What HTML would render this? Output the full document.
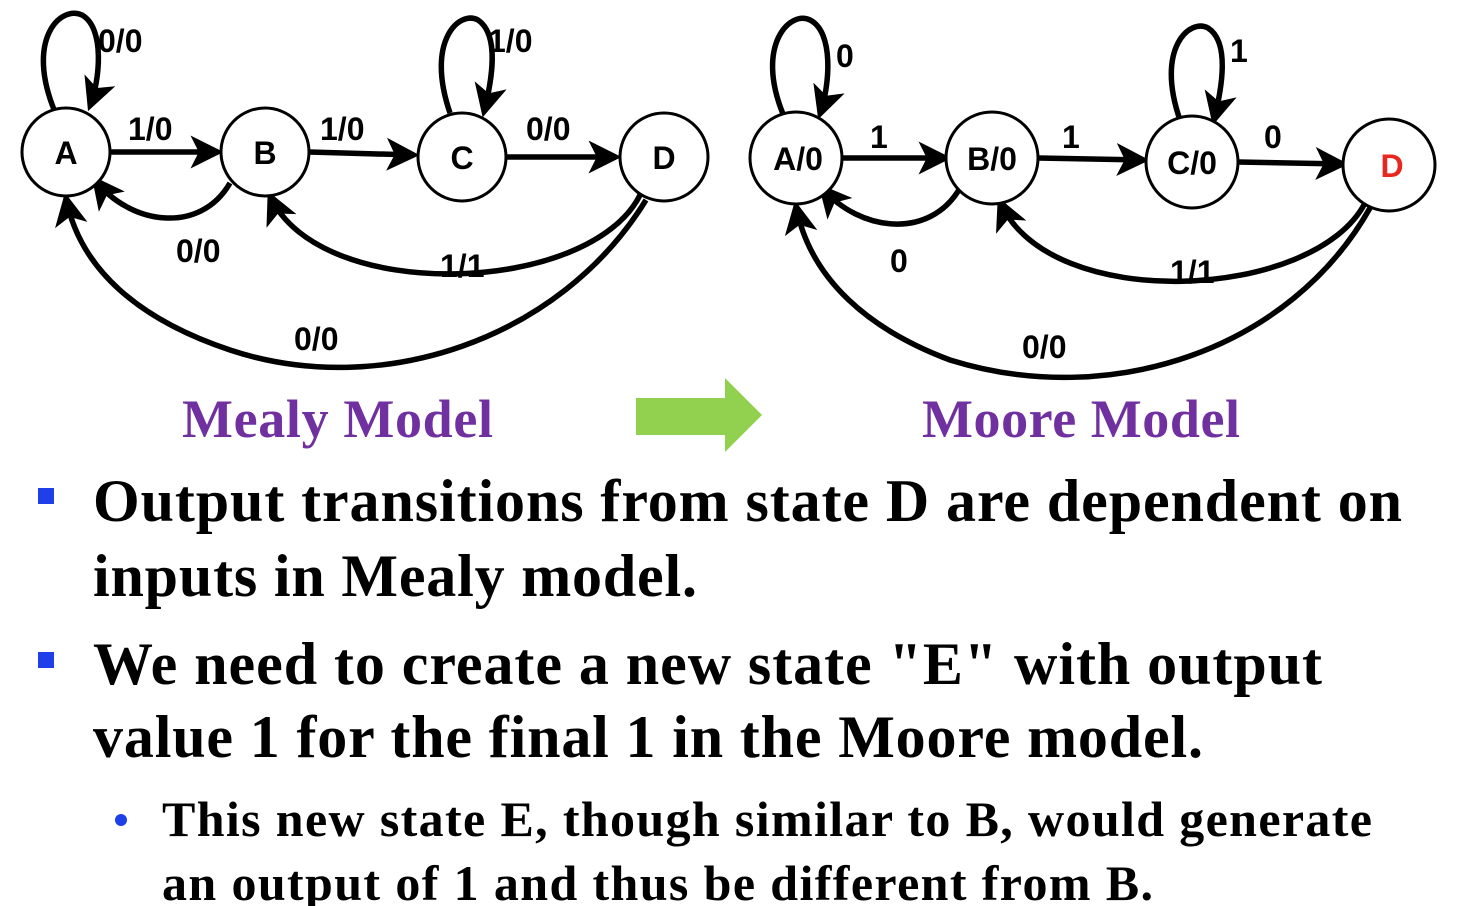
<!DOCTYPE html>
<html><head><meta charset="utf-8"><style>
html,body{margin:0;padding:0;background:#fff;width:1482px;height:906px;overflow:hidden}
svg{display:block}
.st{font-family:"Liberation Sans",sans-serif;font-weight:bold;font-size:32px;fill:#000}
.lb{font-family:"Liberation Sans",sans-serif;font-weight:bold;font-size:32px;fill:#000}
.ttl{font-family:"Liberation Serif",serif;font-weight:bold;font-size:54px;fill:#7030A0}
.bt{font-family:"Liberation Serif",serif;font-weight:bold;font-size:60px;fill:#000}
.sb{font-family:"Liberation Serif",serif;font-weight:bold;font-size:50px;fill:#000}
.e{fill:none;stroke:#000;stroke-width:5.5;marker-end:url(#ah)}
.c{fill:#fff;stroke:#000;stroke-width:3}
</style></head><body>
<svg width="1482" height="906">
<defs><marker id="ah" markerWidth="6" markerHeight="6" refX="5" refY="3" orient="auto" markerUnits="strokeWidth"><path d="M0,0 L6,3 L0,6 L1.5,3 Z" fill="#000"/></marker></defs>
<g>
<path class="e" d="M55 112 C25 40,60 5,82 15 C105 28,100 80,90 106"/>
<path class="e" d="M110 152 L218 152"/>
<path class="e" d="M309 152 L414 155"/>
<path class="e" d="M450 113 C425 40,460 10,478 20 C500 35,492 80,484 112"/>
<path class="e" d="M506 157 L616 157"/>
<path class="e" d="M230 183 C200 235,130 225,95 180"/>
<path class="e" d="M640 195 C590 295,320 305,270 196"/>
<path class="e" d="M646 200 C560 340,380 400,230 350 C140 320,80 270,66 198"/>
<circle class="c" cx="66" cy="152" r="44"/><circle class="c" cx="265" cy="152" r="44"/>
<circle class="c" cx="462" cy="157" r="44"/><circle class="c" cx="664" cy="157" r="44"/>
<text class="st" x="66" y="164" text-anchor="middle">A</text>
<text class="st" x="265" y="164" text-anchor="middle">B</text>
<text class="st" x="462" y="169" text-anchor="middle">C</text>
<text class="st" x="664" y="169" text-anchor="middle">D</text>
<text class="lb" x="98" y="52">0/0</text><text class="lb" x="128" y="140">1/0</text>
<text class="lb" x="320" y="140">1/0</text><text class="lb" x="488" y="52">1/0</text>
<text class="lb" x="526" y="140">0/0</text><text class="lb" x="176" y="262">0/0</text>
<text class="lb" x="440" y="277">1/1</text><text class="lb" x="294" y="350">0/0</text>
</g>
<g>
<path class="e" d="M783 114 C755 45,790 10,810 20 C834 32,830 85,820 114"/>
<path class="e" d="M842 158 L946 158"/>
<path class="e" d="M1038 158 L1144 160"/>
<path class="e" d="M1180 120 C1155 48,1190 18,1208 28 C1230 42,1222 88,1214 120"/>
<path class="e" d="M1238 162 L1343 164"/>
<path class="e" d="M960 188 C930 240,860 232,822 188"/>
<path class="e" d="M1365 203 C1315 300,1050 315,1000 202"/>
<path class="e" d="M1370 208 C1290 350,1110 410,950 360 C870 330,810 280,796 206"/>
<circle class="c" cx="796" cy="158" r="46"/><circle class="c" cx="992" cy="158" r="46"/>
<circle class="c" cx="1192" cy="162" r="46"/><circle class="c" cx="1389" cy="165" r="46"/>
<text class="st" x="798" y="170" text-anchor="middle">A/0</text>
<text class="st" x="992" y="170" text-anchor="middle">B/0</text>
<text class="st" x="1192" y="174" text-anchor="middle">C/0</text>
<text class="st" x="1392" y="177" text-anchor="middle" style="fill:#e8281e">D</text>
<text class="lb" x="836" y="67">0</text><text class="lb" x="870" y="148">1</text>
<text class="lb" x="1062" y="148">1</text><text class="lb" x="1230" y="62">1</text>
<text class="lb" x="1264" y="148">0</text><text class="lb" x="890" y="272">0</text>
<text class="lb" x="1170" y="283">1/1</text><text class="lb" x="1022" y="358">0/0</text>
</g>
<text class="ttl" x="182" y="437" textLength="311">Mealy  Model</text>
<text class="ttl" x="922" y="437" textLength="318">Moore  Model</text>
<polygon points="636,398 725,398 725,378 762,415 725,452 725,435 636,435" fill="#92D050"/>
<rect x="38" y="488" width="16" height="16" fill="#1f3fe8"/>
<rect x="38" y="652" width="16" height="16" fill="#1f3fe8"/>
<circle cx="121" cy="820" r="6" fill="#1f3fe8"/>
<g>
<text class="bt" x="93" y="521" textLength="1309">Output transitions from state D are dependent on</text>
<text class="bt" x="93" y="596" textLength="604">inputs in Mealy model.</text>
<text class="bt" x="93" y="684" textLength="1229">We need to create a new state "E" with output</text>
<text class="bt" x="93" y="757" textLength="1110">value 1 for the final 1 in the Moore model.</text>
<text class="sb" x="162" y="836" textLength="1210">This new state E, though similar to B, would generate</text>
<text class="sb" x="162" y="900" textLength="991">an output of 1 and thus be different from B.</text>
</g>
</svg>
</body></html>
